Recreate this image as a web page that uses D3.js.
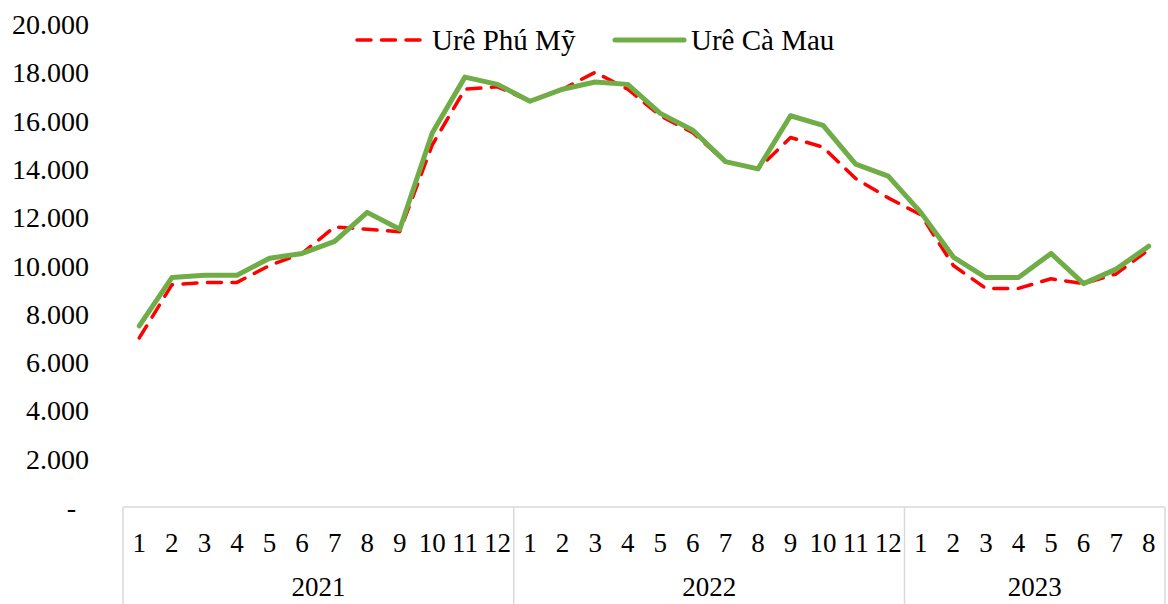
<!DOCTYPE html>
<html>
<head>
<meta charset="utf-8">
<script src="https://cdn.jsdelivr.net/npm/d3@7"></script>
<style>
  html, body { margin: 0; padding: 0; background: #fff; }
  svg { display: block; }
  text { font-family: "Liberation Serif", "Times New Roman", serif; fill: #000; }
</style>
</head>
<body>
<svg id="chart" width="1168" height="604"></svg>
<script>
// ---- Data ----
const years = ["2021", "2022", "2023"];
const monthsPerYear = [12, 12, 8];
const months = [1,2,3,4,5,6,7,8,9,10,11,12, 1,2,3,4,5,6,7,8,9,10,11,12, 1,2,3,4,5,6,7,8];
const seriesNames = ["Urê Phú Mỹ", "Urê Cà Mau"];
const urePhuMy = [7000, 9200, 9300, 9300, 10000, 10500, 11600, 11500, 11400, 15000, 17300, 17400,
                  16800, 17300, 18000, 17300, 16200, 15500, 14300, 14000, 15300, 14900, 13600, 12800,
                  12100, 10000, 9050, 9050, 9450, 9250, 9650, 10650];
const ureCaMau = [7500, 9500, 9600, 9600, 10300, 10500, 11000, 12200, 11500, 15500, 17800, 17500,
                  16800, 17300, 17600, 17500, 16300, 15600, 14300, 14000, 16200, 15800, 14200, 13700,
                  12200, 10350, 9500, 9500, 10500, 9250, 9850, 10800];
const yTicks = [0, 2000, 4000, 6000, 8000, 10000, 12000, 14000, 16000, 18000, 20000];

(function () {
// ---- Layout ----
const svg = d3.select("#chart");
const plotLeft = 123, plotRight = 1165, plotTop = 24, plotBottom = 507;
const serif = "'Liberation Serif', 'Times New Roman', serif";
const idx = d3.range(months.length);

const x = d3.scaleBand().domain(idx).range([plotLeft, plotRight]).paddingInner(0).paddingOuter(0);
const xc = i => x(i) + x.bandwidth() / 2;
const y = d3.scaleLinear().domain([0, 20000]).range([plotBottom, plotTop]);

// ---- Y axis (labels only) ----
const fmt = v => v === 0 ? "-" : d3.format(",")(v).replace(/,/g, ".");
const yAxis = d3.axisLeft(y).tickValues(yTicks).tickSize(0).tickPadding(0).tickFormat(fmt);
const gy = svg.append("g").attr("transform", "translate(89,0)").call(yAxis)
  .attr("font-family", serif).attr("font-size", 28);
gy.select(".domain").remove();
gy.selectAll("text")
  .style("font-family", serif)
  .style("font-size", "28px")
  .attr("fill", "#000")
  .attr("dy", "0.34em")
  .attr("x", d => d === 0 ? -13 : 0);

// ---- Category axis (multi-level) ----
const axisColor = "#d9d9d9";
svg.append("line")
  .attr("x1", plotLeft).attr("x2", plotRight).attr("y1", plotBottom).attr("y2", plotBottom)
  .attr("stroke", axisColor).attr("stroke-width", 1.5);

const xAxis = d3.axisBottom(x).tickSize(0).tickPadding(0).tickFormat(i => months[i]);
const gx = svg.append("g").attr("transform", `translate(0,${plotBottom})`).call(xAxis)
  .attr("font-family", serif).attr("font-size", 27);
gx.select(".domain").remove();
gx.selectAll("text")
  .style("font-family", serif)
  .style("font-size", "27px")
  .attr("fill", "#000")
  .attr("y", 36)
  .attr("dy", "0.34em");

// year groups
let start = 0;
const groups = years.map((yr, k) => {
  const g = { year: yr, s: start, e: start + monthsPerYear[k] - 1 };
  start += monthsPerYear[k];
  return g;
});
const dividers = [groups[0].s].concat(groups.map(g => g.e));
dividers.forEach((iv, k) => {
  const xv = k === 0 ? x(iv) : x(iv) + x.bandwidth();
  svg.append("line")
    .attr("x1", xv).attr("x2", xv).attr("y1", plotBottom).attr("y2", 604)
    .attr("stroke", axisColor).attr("stroke-width", 1.5);
});
svg.selectAll(".year").data(groups).enter().append("text")
  .attr("class", "year")
  .attr("x", g => (x(g.s) + x(g.e) + x.bandwidth()) / 2)
  .attr("y", 587)
  .attr("dy", "0.34em")
  .attr("text-anchor", "middle")
  .style("font-family", serif)
  .style("font-size", "27px")
  .text(g => g.year);

// ---- Lines ----
const line = d3.line().x((d, i) => xc(i)).y(d => y(d));
svg.append("path").datum(urePhuMy)
  .attr("d", line)
  .attr("fill", "none")
  .attr("stroke", "#ff0000")
  .attr("stroke-width", 3.5)
  .attr("stroke-dasharray", "14,10.5")
  .attr("stroke-linecap", "round")
  .attr("stroke-linejoin", "round");
svg.append("path").datum(ureCaMau)
  .attr("d", line)
  .attr("fill", "none")
  .attr("stroke", "#70ad47")
  .attr("stroke-width", 5)
  .attr("stroke-linecap", "round")
  .attr("stroke-linejoin", "round");

// ---- Legend ----
const legend = svg.append("g");
const leg = [
  { name: seriesNames[0], x1: 357, x2: 425, tx: 432, color: "#ff0000", dash: "14,10.5", w: 3.5 },
  { name: seriesNames[1], x1: 615, x2: 684, tx: 691, color: "#70ad47", dash: null, w: 5 }
];
leg.forEach(l => {
  legend.append("line")
    .attr("x1", l.x1).attr("x2", l.x2).attr("y1", 40).attr("y2", 40)
    .attr("stroke", l.color).attr("stroke-width", l.w)
    .attr("stroke-linecap", "round")
    .attr("stroke-dasharray", l.dash);
  legend.append("text")
    .attr("x", l.tx).attr("y", 50)
    .style("font-family", serif)
    .style("font-size", "29px")
    .text(l.name);
});
})();
</script>
</body>
</html>
